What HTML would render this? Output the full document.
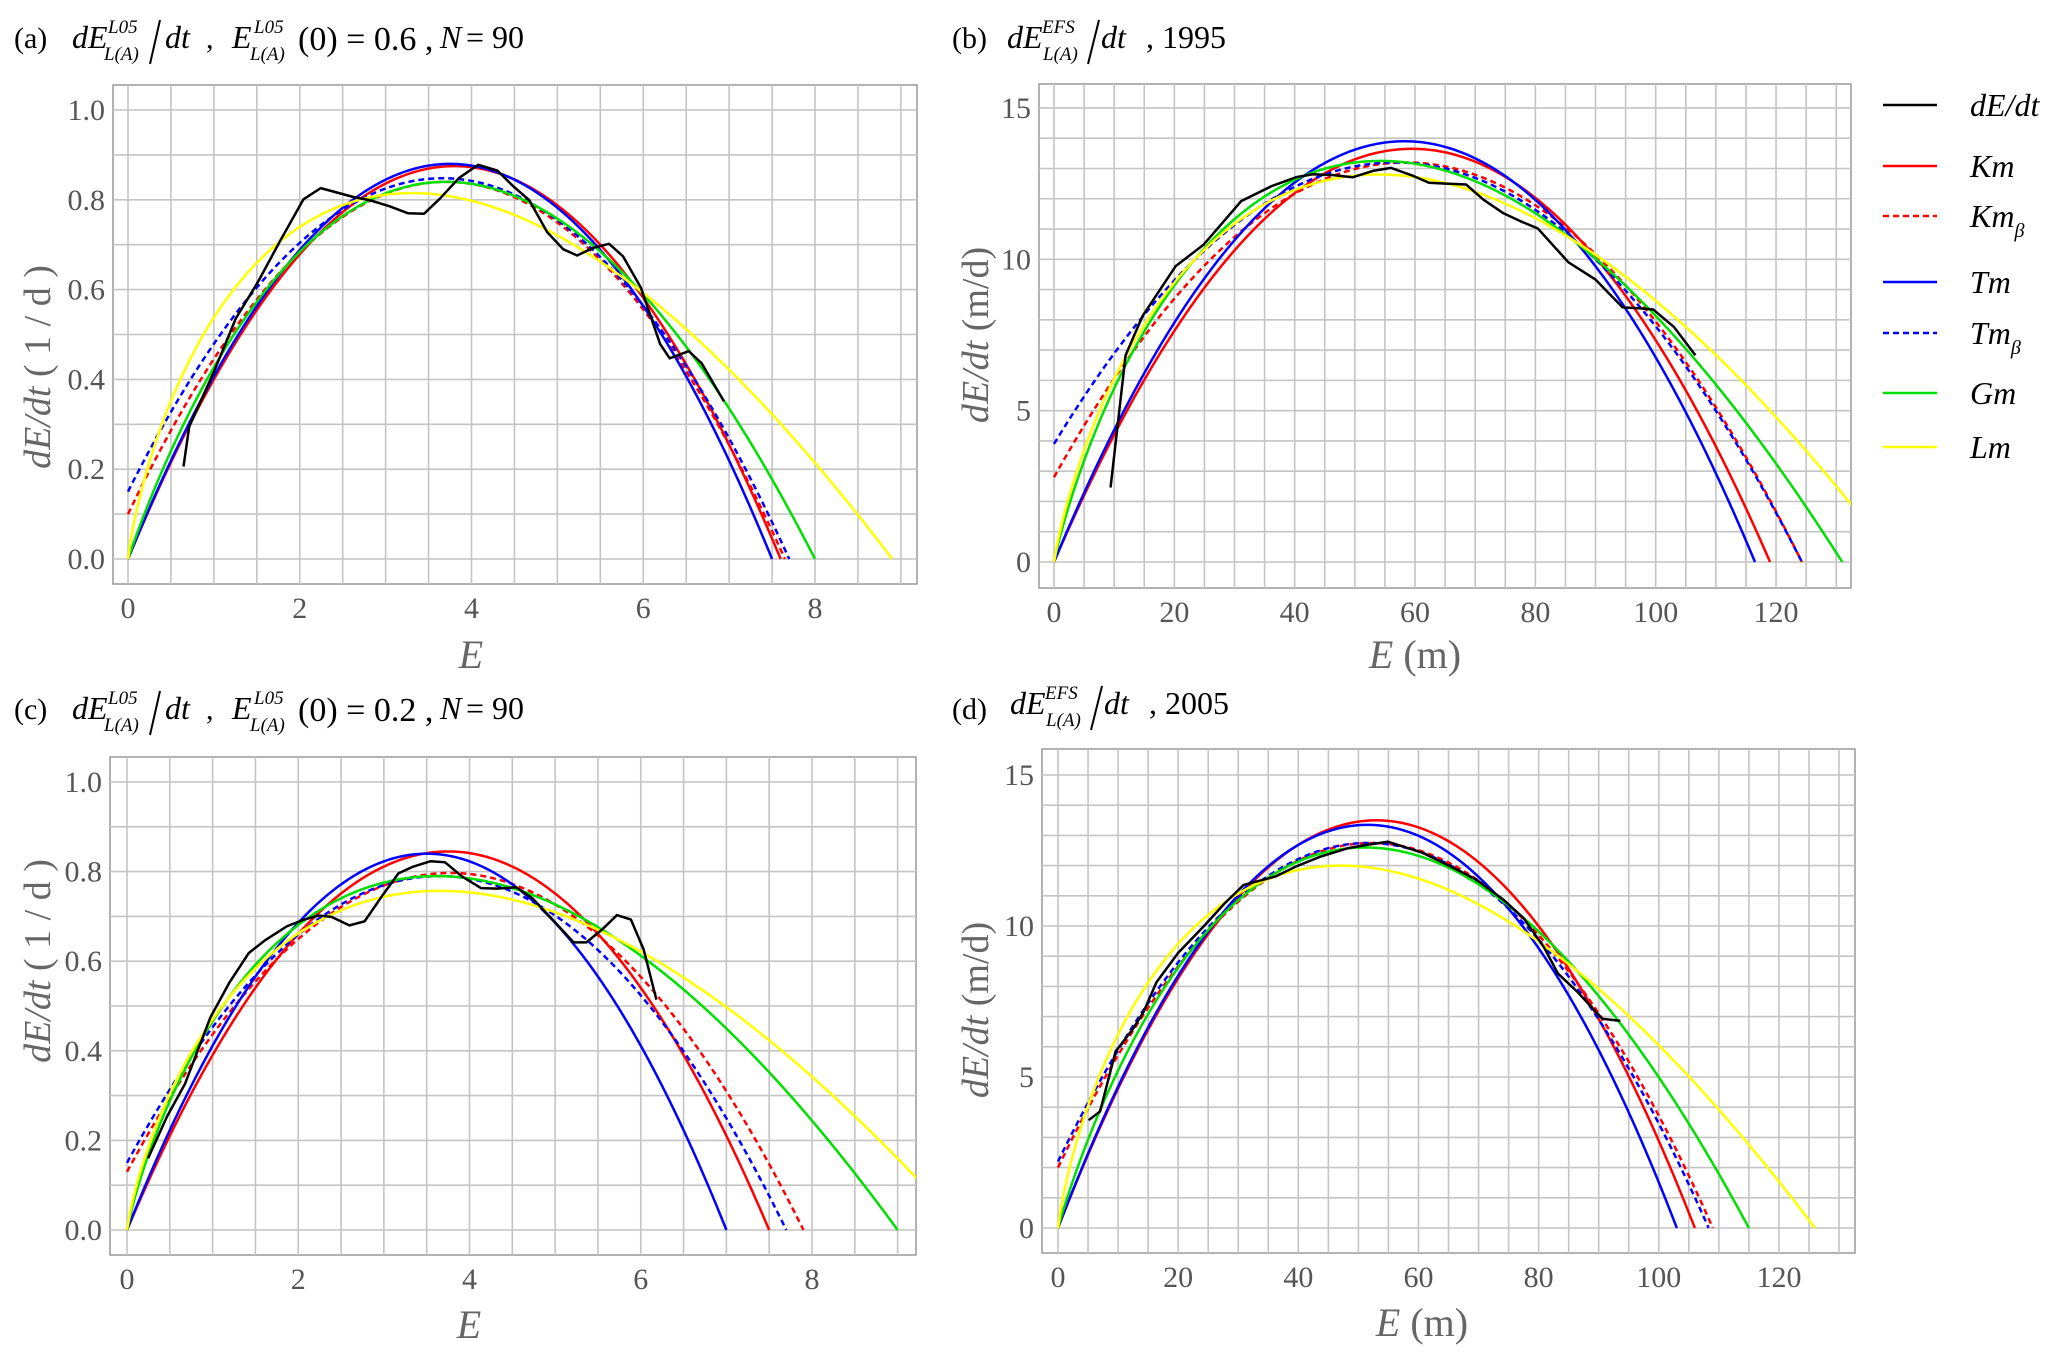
<!DOCTYPE html>
<html><head><meta charset="utf-8"><style>
html,body{margin:0;padding:0;background:#fff;}
svg{display:block;font-family:"Liberation Serif",serif;}
</style></head><body>
<svg id="fig" width="2067" height="1357" viewBox="0 0 2067 1357" xmlns="http://www.w3.org/2000/svg">
<defs>
<clipPath id="clipA"><rect x="113" y="85" width="804" height="499"/></clipPath>
<clipPath id="clipB"><rect x="1039" y="84" width="812" height="504"/></clipPath>
<clipPath id="clipC"><rect x="110" y="757" width="806" height="498"/></clipPath>
<clipPath id="clipD"><rect x="1042" y="749" width="813" height="504"/></clipPath>
</defs>

<!-- Titles -->
<g fill="#000">
<text x="14" y="48" font-size="30">(a)</text>
<text x="72" y="48" font-size="32" font-style="italic">dE</text>
<text x="108" y="33" font-size="19" font-style="italic">L05</text>
<text x="104" y="60" font-size="19" font-style="italic">L(A)</text>
<line x1="160" y1="20" x2="150" y2="64" stroke="#000" stroke-width="2"/>
<text x="165" y="48" font-size="32" font-style="italic">dt</text>
<text x="206" y="48" font-size="30">,</text>
<text x="232" y="48" font-size="32" font-style="italic">E</text>
<text x="254" y="33" font-size="19" font-style="italic">L05</text>
<text x="250" y="60" font-size="19" font-style="italic">L(A)</text>
<text x="298" y="50" font-size="34">(0) = 0.6 ,</text>
<text x="440" y="48" font-size="32" font-style="italic">N</text>
<text x="466" y="48" font-size="32">= 90</text>
</g>
<g fill="#000">
<text x="952" y="48" font-size="30">(b)</text>
<text x="1007" y="48" font-size="32" font-style="italic">dE</text>
<text x="1042" y="33" font-size="19" font-style="italic">EFS</text>
<text x="1043" y="60" font-size="19" font-style="italic">L(A)</text>
<line x1="1099" y1="20" x2="1088" y2="64" stroke="#000" stroke-width="2"/>
<text x="1101" y="48" font-size="32" font-style="italic">dt</text>
<text x="1146" y="48" font-size="32">, 1995</text>
</g>
<g fill="#000">
<text x="14" y="719" font-size="30">(c)</text>
<text x="72" y="719" font-size="32" font-style="italic">dE</text>
<text x="108" y="704" font-size="19" font-style="italic">L05</text>
<text x="104" y="731" font-size="19" font-style="italic">L(A)</text>
<line x1="160" y1="691" x2="150" y2="735" stroke="#000" stroke-width="2"/>
<text x="165" y="719" font-size="32" font-style="italic">dt</text>
<text x="206" y="719" font-size="30">,</text>
<text x="232" y="719" font-size="32" font-style="italic">E</text>
<text x="254" y="704" font-size="19" font-style="italic">L05</text>
<text x="250" y="731" font-size="19" font-style="italic">L(A)</text>
<text x="298" y="721" font-size="34">(0) = 0.2 ,</text>
<text x="440" y="719" font-size="32" font-style="italic">N</text>
<text x="466" y="719" font-size="32">= 90</text>
</g>
<g fill="#000">
<text x="952" y="719" font-size="30">(d)</text>
<text x="1010" y="714" font-size="32" font-style="italic">dE</text>
<text x="1045" y="699" font-size="19" font-style="italic">EFS</text>
<text x="1046" y="726" font-size="19" font-style="italic">L(A)</text>
<line x1="1102" y1="686" x2="1091" y2="730" stroke="#000" stroke-width="2"/>
<text x="1104" y="714" font-size="32" font-style="italic">dt</text>
<text x="1149" y="714" font-size="32">, 2005</text>
</g>

<!-- Legend -->
<g font-size="32" font-style="italic" fill="#000">
<g><line x1="1883" y1="105" x2="1937" y2="105" stroke="#000" stroke-width="2.5"/><text x="1970" y="116">dE/dt</text></g>
<g><line x1="1883" y1="166" x2="1937" y2="166" stroke="#ff0000" stroke-width="2.5"/><text x="1970" y="177">Km</text></g>
<g><line x1="1883" y1="216" x2="1937" y2="216" stroke="#ff0000" stroke-width="2.5" stroke-dasharray="6,4"/><text x="1970" y="227">Km<tspan font-size="20" dy="10">β</tspan></text></g>
<g><line x1="1883" y1="282" x2="1937" y2="282" stroke="#0000ff" stroke-width="2.5"/><text x="1970" y="293">Tm</text></g>
<g><line x1="1883" y1="333" x2="1937" y2="333" stroke="#0000ff" stroke-width="2.5" stroke-dasharray="6,4"/><text x="1970" y="344">Tm<tspan font-size="20" dy="10">β</tspan></text></g>
<g><line x1="1883" y1="393" x2="1937" y2="393" stroke="#00e000" stroke-width="2.5"/><text x="1970" y="404">Gm</text></g>
<g><line x1="1883" y1="447" x2="1937" y2="447" stroke="#ffff00" stroke-width="2.5"/><text x="1970" y="458">Lm</text></g>
</g>
</svg>
<script>
// ---- Panel (a) data: series order Km, Km_beta, Tm, Tm_beta, Gm, Lm ----
const aIntercept = [0, 0.1, 0, 0.15, 0, 0];
const aZero = [7.6, 7.65, 7.5, 7.7, 8.0, 8.9];
const aTheta = [1, 1, 1, 1, 0.65, 0.02];
const aPeak = [0.875, 0.84, 0.88, 0.848, 0.84, 0.815];
const aObsE = [0.646,0.713,0.996,1.256,1.516,1.776,2.043,2.244,2.63,2.816,3.039,3.262,3.448,3.634,3.857,4.079,4.302,4.487,4.673,4.881,5.067,5.23,5.416,5.602,5.765,5.973,6.196,6.308,6.53,6.68,6.94];
const aObsRate = [0.206,0.295,0.415,0.536,0.618,0.71,0.801,0.826,0.806,0.799,0.786,0.77,0.769,0.803,0.849,0.878,0.865,0.83,0.799,0.728,0.69,0.676,0.693,0.702,0.674,0.604,0.479,0.447,0.463,0.436,0.351];
const aXTicks = [0, 2, 4, 6, 8];
const aYTicks = ["0.0","0.2","0.4","0.6","0.8","1.0"];

// ---- Panel (b) data ----
const bIntercept = [0, 2.8, 0, 3.9, 0, 0];
const bZero = [119, 124.3, 116.5, 124.3, 131, 140];
const bTheta = [1, 1, 1, 1, 0.28, 0.1];
const bPeak = [13.65, 13.2, 13.9, 13.2, 13.25, 12.8];
const bObsE = [9.4,11.9,14.7,20.2,24.9,31.1,36.2,40.2,43.0,46.4,49.6,53.0,56.0,59.4,62.3,65.1,68.5,71.3,74.7,77.5,80.4,85.5,90.0,94.5,97.4,99.6,103.0,106.6];
const bObsRate = [2.46,6.83,8.12,9.77,10.49,11.92,12.42,12.71,12.81,12.78,12.71,12.92,13.02,12.78,12.53,12.5,12.47,11.98,11.52,11.26,11.02,9.9,9.33,8.41,8.38,8.34,7.77,6.83];
const bXTicks = [0, 20, 40, 60, 80, 100, 120];
const bYTicks = ["0","5","10","15"];

// ---- Panel (c) data ----
const cIntercept = [0, 0.13, 0, 0.15, 0, 0];
const cZero = [7.5, 7.9, 7.0, 7.7, 9.0, 9.78];
const cTheta = [1, 1, 1, 1, 0.2, 0.03];
const cPeak = [0.845, 0.797, 0.84, 0.79, 0.79, 0.757];
const cObsE = [0.246,0.469,0.677,0.975,1.198,1.421,1.607,1.868,2.054,2.24,2.388,2.597,2.775,2.984,3.17,3.341,3.542,3.713,3.914,4.137,4.323,4.546,4.732,4.993,5.216,5.365,5.551,5.722,5.885,6.034,6.183];
const cObsRate = [0.16,0.254,0.326,0.475,0.553,0.618,0.646,0.678,0.692,0.702,0.699,0.68,0.689,0.747,0.796,0.811,0.823,0.821,0.789,0.763,0.762,0.765,0.741,0.688,0.642,0.642,0.671,0.703,0.693,0.626,0.514];
const cXTicks = [0, 2, 4, 6, 8];
const cYTicks = ["0.0","0.2","0.4","0.6","0.8","1.0"];

// ---- Panel (d) data ----
const dIntercept = [0, 2.0, 0, 2.2, 0, 0];
const dZero = [106, 109, 103, 108.3, 115, 126];
const dTheta = [1, 1, 1, 1, 0.5, 0.03];
const dPeak = [13.5, 12.75, 13.35, 12.75, 12.6, 12.0];
const dObsE = [5.1,7.0,9.6,10.2,12.5,14.2,16.4,20.0,24.3,27.7,30.9,32.8,36.2,39.6,43.6,48.1,51.5,54.9,60.6,65.1,69.6,74.2,77.5,80.9,83.2,86.6,88.9,90.6,93.6];
const dObsRate = [3.57,3.86,5.86,6.0,6.6,7.14,8.14,9.11,10.0,10.74,11.36,11.46,11.64,11.97,12.29,12.57,12.69,12.79,12.43,12.0,11.54,10.86,10.26,9.29,8.43,7.79,7.29,6.93,6.86];
const dXTicks = [0, 20, 40, 60, 80, 100, 120];
const dYTicks = ["0","5","10","15"];

const seriesNames = ["km","km-beta","tm","tm-beta","gm","lm"];
const seriesColors = ["#ff0000","#ff0000","#0000ff","#0000ff","#00e000","#ffff00"];
const seriesDash = [null,"6,4",null,"6,4",null,null];

const NS = "http://www.w3.org/2000/svg";
const svg = document.getElementById("fig");
function mk(tag, attrs, parent){const e=document.createElementNS(NS,tag);for(const k in attrs)e.setAttribute(k,attrs[k]);(parent||svg).appendChild(e);return e;}

function shape(E,K,th){ if(E<=0) return 0; const u=E/K; return th<0.005? -E*Math.log(u) : E*(1-Math.pow(u,th))/th; }
function model(E,b,K,th,r){ return b*(1-E/K) + r*shape(E,K,th); }
function maxOf(b,K,th,r){ let m=-1e9; for(let i=0;i<=400;i++){const E=K*i/400; const v=model(E,b,K,th,r); if(v>m)m=v;} return m; }
function solveR(b,K,th,H){ let lo=0,hi=10; while(maxOf(b,K,th,hi)<H) hi*=2; for(let i=0;i<50;i++){const mid=(lo+hi)/2; if(maxOf(b,K,th,mid)<H) lo=mid; else hi=mid;} return (lo+hi)/2; }

function panel(cfg){
  const g = mk("g",{});
  
  
  const f = cfg.frame;
  const X = E => cfg.x0 + E*cfg.xs;
  const Y = v => cfg.y0 - v*cfg.ys;
  mk("rect",{x:f[0],y:f[1],width:f[2]-f[0],height:f[3]-f[1],fill:"#fff",stroke:"#999","stroke-width":1.5},g);
  const grid = mk("g",{stroke:"#c4c4c4","stroke-width":1.6},g);
  
  
  for(let k=Math.ceil((f[0]-cfg.x0)/cfg.xs/cfg.gx);k*cfg.gx*cfg.xs+cfg.x0<f[2];k++){const x=X(k*cfg.gx); mk("line",{x1:x,y1:f[1],x2:x,y2:f[3]},grid);}
  for(let k=Math.ceil((cfg.y0-f[3])/cfg.ys/cfg.gy);cfg.y0-k*cfg.gy*cfg.ys>f[1];k++){const y=Y(k*cfg.gy); mk("line",{x1:f[0],y1:y,x2:f[2],y2:y},grid);}
  // tick labels
  const xt = mk("g",{"font-size":30,fill:"#555","text-anchor":"middle"},g);
  
  
  cfg.xticks.forEach(t=>{const e=mk("text",{x:X(t),y:f[3]+34},xt); e.textContent=t;});
  const yt = mk("g",{"font-size":30,fill:"#555","text-anchor":"end"},g);
  
  
  cfg.yticks.forEach(t=>{const e=mk("text",{x:f[0]-8,y:Y(parseFloat(t))+10},yt); e.textContent=t;});
  // axis titles
  const xtitle = mk("text",{x:cfg.xtX,y:cfg.xtY,"font-size":40,fill:"#666","text-anchor":"middle"},g);
  
  
  xtitle.innerHTML = '<tspan font-style="italic">E</tspan>'+cfg.xunit;
  const ytitle = mk("text",{x:0,y:0,"font-size":38,fill:"#666","text-anchor":"middle",transform:`translate(${cfg.ytX},${cfg.ytY}) rotate(-90)`},g);
  
  
  ytitle.innerHTML = '<tspan font-style="italic">dE/dt</tspan> '+cfg.yunit;
  // curves
  const cg = mk("g",{"clip-path":`url(#${cfg.clip})`,fill:"none"},g);
  for(let s=0;s<6;s++){
    const b=cfg.b[s],K=cfg.K[s],th=cfg.th[s];
    const r=solveR(b,K,th,cfg.H[s]);
    let d="";
    for(let i=0;i<=300;i++){const E=K*i/300; d+=(i?"L":"M")+X(E).toFixed(2)+","+Y(model(E,b,K,th,r)).toFixed(2);}
    const p = mk("path",{d:d,stroke:seriesColors[s],"stroke-width":2.5},cg);
    if(seriesDash[s]) p.setAttribute("stroke-dasharray",seriesDash[s]);
    
    
  }
  let d="";
  cfg.oe.forEach((E,i)=>{d+=(i?"L":"M")+X(E).toFixed(2)+","+Y(cfg.ov[i]).toFixed(2);});
  const obs = mk("path",{d:d,stroke:"#000","stroke-width":2.5,"stroke-linejoin":"round"},cg);
  
  
}

panel({name:"panel-a",frame:[113,85,917,584],x0:128,xs:85.875,y0:559,ys:449,gx:0.5,gy:0.1,clip:"clipA",
  xticks:aXTicks,yticks:aYTicks,xtX:471,xtY:668,xunit:"",ytX:50,ytY:367,yunit:"( 1 / d )",
  b:aIntercept,K:aZero,th:aTheta,H:aPeak,oe:aObsE,ov:aObsRate});
panel({name:"panel-b",frame:[1039,84,1851,588],x0:1054,xs:6.017,y0:562,ys:30.27,gx:5,gy:1,clip:"clipB",
  xticks:bXTicks,yticks:bYTicks,xtX:1415,xtY:668,xunit:" (m)",ytX:988,ytY:335,yunit:"(m/d)",
  b:bIntercept,K:bZero,th:bTheta,H:bPeak,oe:bObsE,ov:bObsRate});
panel({name:"panel-c",frame:[110,757,916,1255],x0:127,xs:85.625,y0:1230,ys:448,gx:0.5,gy:0.1,clip:"clipC",
  xticks:cXTicks,yticks:cYTicks,xtX:469,xtY:1338,xunit:"",ytX:50,ytY:961,yunit:"( 1 / d )",
  b:cIntercept,K:cZero,th:cTheta,H:cPeak,oe:cObsE,ov:cObsRate});
panel({name:"panel-d",frame:[1042,749,1855,1253],x0:1058,xs:6.008,y0:1228,ys:30.2,gx:5,gy:1,clip:"clipD",
  xticks:dXTicks,yticks:dYTicks,xtX:1422,xtY:1336,xunit:" (m)",ytX:988,ytY:1010,yunit:"(m/d)",
  b:dIntercept,K:dZero,th:dTheta,H:dPeak,oe:dObsE,ov:dObsRate});
</script>
</body></html>
